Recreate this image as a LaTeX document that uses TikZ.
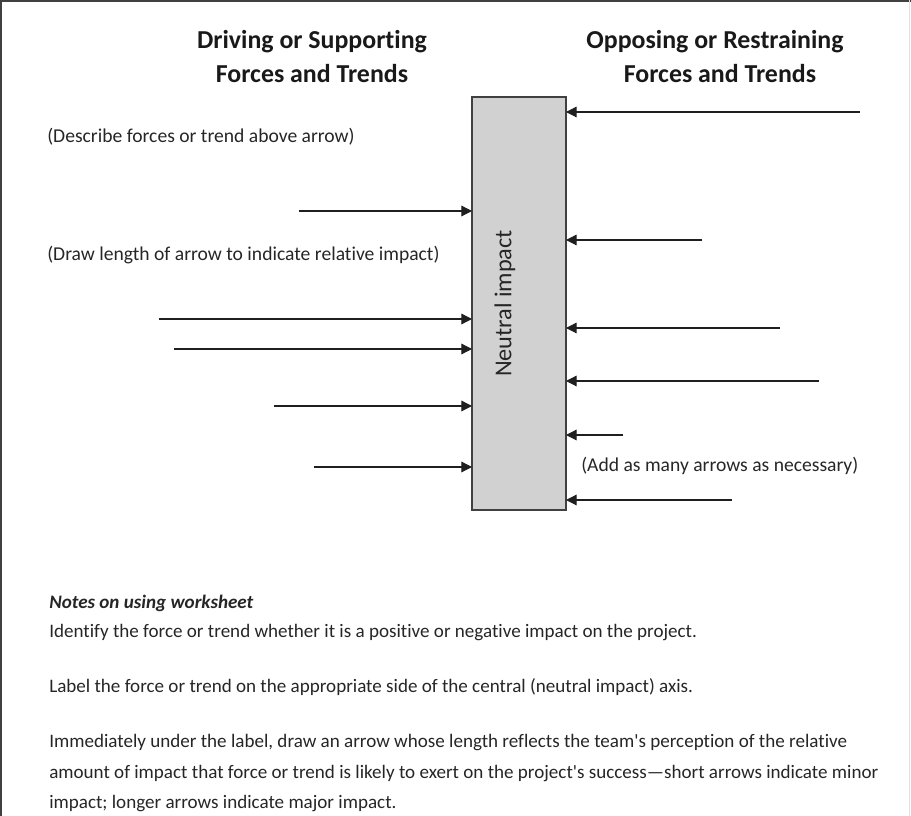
\documentclass[tikz,border=0pt]{standalone}
\usepackage{fontspec}
\setmainfont{Carlito}[Ligatures={NoCommon}]
\usetikzlibrary{arrows.meta}
\begin{document}
\begin{tikzpicture}[
    x=0.75pt,y=-0.75pt,
    freccia/.style={draw=black!88,line width=0.9pt,-{Triangle[length=8pt,width=8pt]}},
    asse/.style={draw=black!75,fill=black!18,line width=1pt,inner sep=0pt,outer sep=0pt,
                 minimum width=70.5pt,minimum height=309.75pt},
    titolo/.style={font=\fontsize{19.4}{22}\selectfont\bfseries,text=black!90,inner sep=0pt,anchor=base},
    nota/.style={font=\fontsize{14.3}{17}\selectfont,text=black!85,inner sep=0pt,anchor=base west},
    avviso/.style={nota,font=\fontsize{14.7}{17}\selectfont},
    cornice/.style={draw=black!75,line width=1.6pt}]

  \useasboundingbox (0,0) rectangle (911,816);

  % ---- cornice -----------------------------------------------------------
  \draw[cornice] (1,816) -- (1,1) -- (911,1);
  \draw[draw=black!12,line width=1pt] (909.5,0) -- (909.5,816);

  % ---- titoli ------------------------------------------------------------
  \node[titolo] (t1a) at (312,49) {Driving or Supporting};
  \node[titolo] (t1b) at (312,83) {Forces and Trends};
  \node[titolo] (t2a) at (715,49) {Opposing or Restraining};
  \node[titolo] (t2b) at (720,83) {Forces and Trends};

  % ---- asse neutro -------------------------------------------------------
  \node[asse] (asse) at (519,303.5) {};
  \node[rotate=90,inner sep=0pt,font=\fontsize{18.2}{21}\selectfont,text=black!85]
    (neutro) at ([xshift=-10.5pt]asse.center) {Neutral impact};

  % ---- coordinate: code libere delle frecce -------------------------------
  \coordinate (s1) at (299,211);
  \coordinate (s2) at (159,319);
  \coordinate (s3) at (174,349);
  \coordinate (s4) at (274,406);
  \coordinate (s5) at (314,467);

  \coordinate (d1) at (860,112);
  \coordinate (d2) at (702,240);
  \coordinate (d3) at (780,328);
  \coordinate (d4) at (819,381);
  \coordinate (d5) at (623,435);
  \coordinate (d6) at (732,500);

  % ---- frecce ------------------------------------------------------------
  \foreach \c in {s1,s2,s3,s4,s5}
    \draw[freccia] (\c) -- (asse.west |- \c);
  \foreach \c in {d1,d2,d3,d4,d5,d6}
    \draw[freccia] (\c) -- (asse.east |- \c);

  % ---- indicazioni -------------------------------------------------------
  \node[avviso] (n1) at (47,143) {(Describe forces or trend above arrow)};
  \node[avviso] (n2) at (47,261) {(Draw length of arrow to indicate relative impact)};
  \node[avviso] (n3) at (581,472) {(Add as many arrows as necessary)};

  % ---- note --------------------------------------------------------------
  \node[nota,font=\fontsize{14.3}{17}\selectfont\bfseries\itshape] (h) at (49,609) {Notes on using worksheet};
  \node[nota] (r1) at (49,638) {Identify the force or trend whether it is a positive or negative impact on the project.};
  \node[nota] (r2) at (49,692) {Label the force or trend on the appropriate side of the central (neutral impact) axis.};
  \node[nota] (r3) at (49,747) {Immediately under the label, draw an arrow whose length reflects the team\textquotesingle s perception of the relative};
  \node[nota] (r4) at (49,778) {amount of impact that force or trend is likely to exert on the project\textquotesingle s success—short arrows indicate minor};
  \node[nota] (r5) at (49,808) {impact; longer arrows indicate major impact.};

\end{tikzpicture}
\end{document}
